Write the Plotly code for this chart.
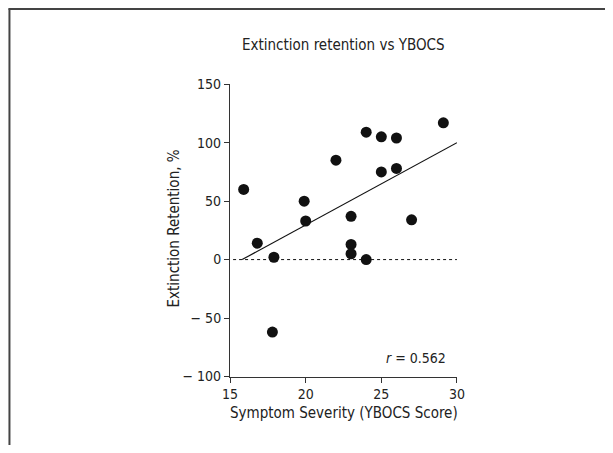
import plotly.graph_objects as go

W, H = 613, 453

# Data
ybocs = [15.9, 16.8, 17.9, 17.8, 19.9, 20.0, 22.0, 23.0, 23.0, 23.0, 24.0, 24.0,
         25.0, 25.0, 26.0, 26.0, 27.0, 29.1]
retention = [60, 14, 2, -62, 50, 33, 85, 37, 13, 5, 0, 109,
             105, 75, 104, 78, 34, 117]
fit_x = [15.8, 30.0]
fit_y = [0, 100]
zero_x = [15.2, 30.0]
zero_y = [0, 0]
x_ticks = [15, 20, 25, 30]
y_ticks = [150, 100, 50, 0, -50, -100]
y_ticklabels = ["150", "100", "50", "0", "\u2212 50", "\u2212 100"]

FONT = "DejaVu Sans Condensed, Roboto Condensed, Liberation Sans Narrow, Arial Narrow, sans-serif"
TXT = "#222222"

# plot area in pixels
px0, px1 = 228, 461
py0, py1 = 79, 382

fig = go.Figure()
fig.add_trace(go.Scatter(x=zero_x, y=zero_y, mode="lines",
                         line=dict(color="#111111", width=1, dash="dot"),
                         hoverinfo="skip", showlegend=False))
fig.add_trace(go.Scatter(x=fit_x, y=fit_y, mode="lines",
                         line=dict(color="#111111", width=1.2),
                         hoverinfo="skip", showlegend=False))
fig.add_trace(go.Scatter(x=ybocs, y=retention, mode="markers",
                         marker=dict(color="#111111", size=11),
                         showlegend=False))

fig.update_layout(
    width=W, height=H,
    margin=dict(l=0, r=0, t=0, b=0),
    paper_bgcolor="white", plot_bgcolor="white",
    font=dict(family=FONT, color=TXT, size=14),
    xaxis=dict(domain=[px0 / W, px1 / W], range=[15, 30],
               tickvals=x_ticks, ticktext=[str(v) for v in x_ticks],
               showgrid=False, zeroline=False, showline=True,
               linecolor="#333333", linewidth=1.2,
               ticks="outside", ticklen=5, tickcolor="#333333", tickwidth=1.2,
               tickfont=dict(family=FONT, size=14, color=TXT)),
    yaxis=dict(domain=[1 - py1 / H, 1 - py0 / H], range=[-100, 150],
               tickvals=y_ticks, ticktext=y_ticklabels,
               showgrid=False, zeroline=False, showline=True,
               linecolor="#333333", linewidth=1.2,
               ticks="outside", ticklen=5, tickcolor="#333333", tickwidth=1.2,
               tickfont=dict(family=FONT, size=14, color=TXT)),
    shapes=[
        dict(type="line", xref="paper", yref="paper",
             x0=1.5 / W, x1=1.5 / W, y0=0, y1=1 - 0.5 / H,
             line=dict(color="#444444", width=2)),
        dict(type="line", xref="paper", yref="paper",
             x0=0.5 / W, x1=1, y0=1 - 1 / H, y1=1 - 1 / H,
             line=dict(color="#444444", width=2)),
    ],
    annotations=[
        dict(text="Extinction retention vs YBOCS", xref="paper", yref="paper",
             x=((px0 + px1) / 2) / W, y=1 - 38 / H, showarrow=False,
             xanchor="center", yanchor="middle",
             font=dict(family=FONT, size=15, color=TXT)),
        dict(text="Symptom Severity (YBOCS Score)", xref="paper", yref="paper",
             x=((px0 + px1) / 2) / W, y=1 - 420 / H, showarrow=False,
             xanchor="center", yanchor="middle",
             font=dict(family=FONT, size=15, color=TXT)),
        dict(text="Extinction Retention, %", xref="paper", yref="paper",
             x=170 / W, y=1 - 229 / H, showarrow=False, textangle=-90,
             xanchor="center", yanchor="middle",
             font=dict(family=FONT, size=15, color=TXT)),
        dict(text="<i>r</i> = 0.562", xref="x", yref="y",
             x=29.4, y=-84, showarrow=False, xanchor="right", yanchor="middle",
             font=dict(family=FONT, size=14, color=TXT)),
    ],
)

fig.write_html("out.html", config={"displayModeBar": False},
               post_script="document.body.style.margin='0';document.body.style.overflow='hidden';")
